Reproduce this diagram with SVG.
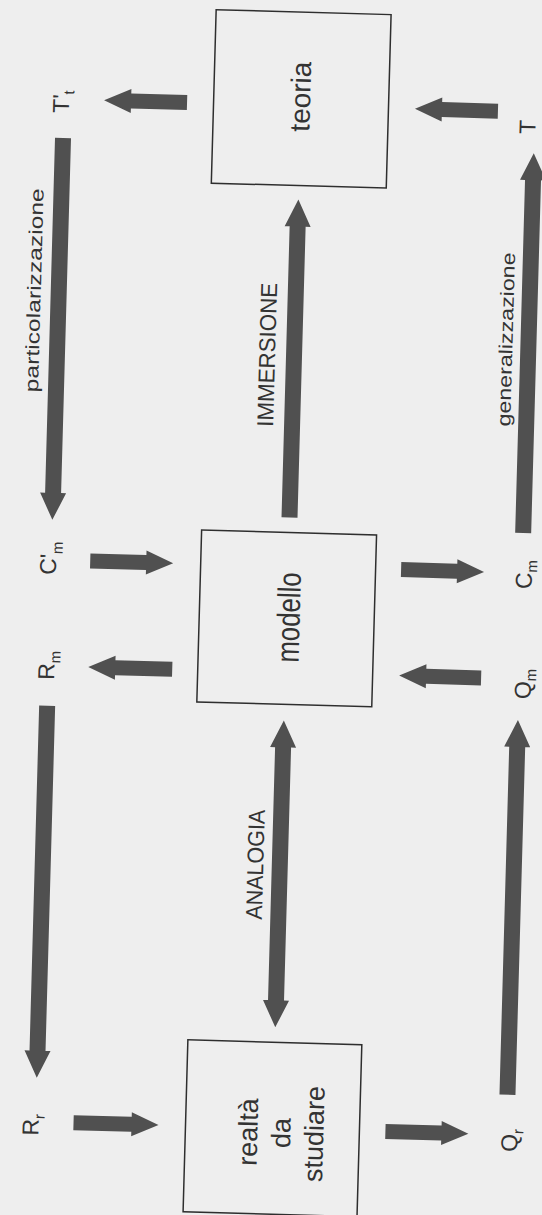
<svg xmlns="http://www.w3.org/2000/svg" width="542" height="1215" viewBox="0 0 542 1215">
  <style>
    .bg { fill: #eeeeee; }
    .box { fill: none; stroke: #2e2e2e; stroke-width: 1.5; }
    .arr { fill: #505050; }
    text { font-family: "Liberation Sans", Arial, sans-serif; fill: #333333; }
    .big { font-size: 28px; }
    .cap { font-size: 23px; }
    .verb { font-size: 19px; }
    .lab { font-size: 23px; }
    .sub { font-size: 15px; }
  </style>

  <rect class="bg" x="0" y="0" width="542" height="1215"/>

  <!-- whole sheet sits slightly skewed on the page -->
  <g id="sheet" transform="rotate(1.6 271 607)">

    <g id="connectors">
      <!-- horizontal block arrows -->
      <polygon id="a-teoria-Tt" class="arr" points="173,97.5 117,97.5 117,93 90,105 117,117 117,112.5 173,112.5"/>
      <polygon id="a-T-teoria" class="arr" points="484,97.5 428,97.5 428,93 401,105 428,117 428,112.5 484,112.5"/>
      <polygon id="a-Cpm-modello" class="arr" points="89,558.5 145,558.5 145,554 172,566 145,578 145,573.5 89,573.5"/>
      <polygon id="a-modello-Cm" class="arr" points="400,558.5 456,558.5 456,554 483,566 456,578 456,573.5 400,573.5"/>
      <polygon id="a-modello-Rm" class="arr" points="174,664.5 117,664.5 117,660 90,672 117,684 117,679.5 174,679.5"/>
      <polygon id="a-Qm-modello" class="arr" points="483,664.5 428,664.5 428,660 401,672 428,684 428,679.5 483,679.5"/>
      <polygon id="a-Rr-realta" class="arr" points="88,1120.5 146,1120.5 146,1116 173,1128 146,1140 146,1135.5 88,1135.5"/>
      <polygon id="a-realta-Qr" class="arr" points="400,1120.5 456,1120.5 456,1116 483,1128 456,1140 456,1135.5 400,1135.5"/>

      <!-- vertical block arrows -->
      <polygon id="a-particolarizzazione" class="arr" points="42,144 58,144 58,499 63,499 50,526 37,499 42,499"/>
      <polygon id="a-Rm-Rr" class="arr" points="42,712 58,712 58,1057 63,1057 50,1084 37,1057 42,1057"/>
      <polygon id="a-immersione" class="arr" points="279,517 295,517 295,226 300,226 287,199 274,226 279,226"/>
      <polygon id="a-analogia" class="arr" points="287,720 300,747 295,747 295,1000 300,1000 287,1027 274,1000 279,1000 279,747 274,747"/>
      <polygon id="a-generalizzazione" class="arr" points="513,526 529,526 529,173 534,173 521,146 508,173 513,173"/>
      <polygon id="a-Qr-Qm" class="arr" points="513,1088 529,1088 529,740 534,740 521,713 508,740 513,740"/>

      <!-- arrow captions -->
      <text class="verb" transform="translate(32,297) rotate(-90)" text-anchor="middle" textLength="204" lengthAdjust="spacingAndGlyphs">particolarizzazione</text>
      <text class="cap" transform="translate(268,355) rotate(-90)" text-anchor="middle" textLength="144" lengthAdjust="spacingAndGlyphs">IMMERSIONE</text>
      <text class="verb" transform="translate(505,333) rotate(-90)" text-anchor="middle" textLength="174" lengthAdjust="spacingAndGlyphs">generalizzazione</text>
      <text class="cap" transform="translate(270.5,865) rotate(-90)" text-anchor="middle" textLength="110" lengthAdjust="spacingAndGlyphs">ANALOGIA</text>
    </g>

    <g id="teoria">
      <rect class="box" x="199.5" y="11.5" width="175" height="173.5"/>
      <text class="big" transform="translate(296,96) rotate(-90)" text-anchor="middle" textLength="70" lengthAdjust="spacingAndGlyphs">teoria</text>
    </g>

    <g id="modello">
      <rect class="box" x="199.5" y="532" width="175" height="172"/>
      <text transform="translate(300,617) rotate(-90)" text-anchor="middle" font-size="32" textLength="90" lengthAdjust="spacingAndGlyphs">modello</text>
    </g>

    <g id="realta">
      <rect class="box" x="200" y="1042" width="174" height="172"/>
      <text font-size="27" transform="translate(272,1132.5) rotate(-90)" text-anchor="middle">realtà</text>
      <text font-size="27" transform="translate(305,1132.5) rotate(-90)" text-anchor="middle">da</text>
      <text font-size="27" transform="translate(338,1132.5) rotate(-90)" text-anchor="middle">studiare</text>
    </g>

    <g id="T-t-prime">
      <text class="lab" transform="translate(55,119) rotate(-90)">T'<tspan class="sub" dy="5">t</tspan></text>
    </g>
    <g id="T">
      <text class="lab" transform="translate(522,127) rotate(-90)">T</text>
    </g>
    <g id="C-m-prime">
      <text class="lab" transform="translate(55,581) rotate(-90)">C'<tspan class="sub" dy="6">m</tspan></text>
    </g>
    <g id="C-m">
      <text class="lab" transform="translate(531,582) rotate(-90)">C<tspan class="sub" dy="5">m</tspan></text>
    </g>
    <g id="R-m">
      <text class="lab" transform="translate(56,686) rotate(-90)">R<tspan class="sub" dy="6">m</tspan></text>
    </g>
    <g id="Q-m">
      <text class="lab" transform="translate(533,692) rotate(-90)">Q<tspan class="sub" dy="5">m</tspan></text>
    </g>
    <g id="R-r">
      <text class="lab" transform="translate(53,1142) rotate(-90)">R<tspan class="sub" dy="6">r</tspan></text>
    </g>
    <g id="Q-r">
      <text class="lab" transform="translate(532,1145) rotate(-90)">Q<tspan class="sub" dy="6">r</tspan></text>
    </g>
  </g>
</svg>
